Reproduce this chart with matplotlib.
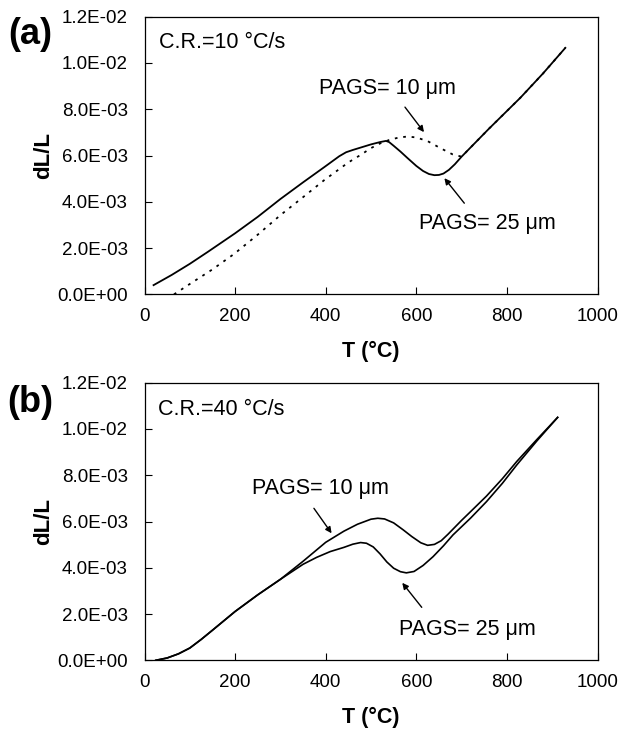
import matplotlib
matplotlib.use("Agg")
import matplotlib.pyplot as plt
from matplotlib.ticker import FuncFormatter

plt.rcParams['font.family'] = ['Liberation Sans', 'DejaVu Sans']

# (a) C.R. = 10 C/s, dL/L in units of 1e-3
a_T_25 = [20, 60, 100, 140, 200, 250, 300, 350, 397, 430, 445, 460, 480, 500,
          520, 533, 540, 550, 565, 580, 600, 615, 628, 640, 650, 660, 672,
          685, 700, 760, 830, 880, 929]
a_y_25 = [0.40, 0.84, 1.32, 1.84, 2.64, 3.35, 4.12, 4.84, 5.50, 5.97, 6.14,
          6.24, 6.36, 6.48, 6.58, 6.63, 6.58, 6.42, 6.17, 5.90, 5.55, 5.33,
          5.20, 5.15, 5.16, 5.22, 5.38, 5.62, 5.95, 7.15, 8.50, 9.55, 10.65]
a_T_10 = [65, 100, 150, 198, 250, 301, 350, 397, 450, 480, 499, 520, 540, 560,
          580, 600, 625, 654, 680, 700, 760, 830, 880, 929]
a_y_10 = [0.0, 0.45, 1.08, 1.75, 2.58, 3.44, 4.20, 4.94, 5.70, 6.06, 6.31,
          6.52, 6.67, 6.77, 6.82, 6.78, 6.62, 6.31, 6.05, 5.95, 7.15, 8.50,
          9.55, 10.65]

# (b) C.R. = 40 C/s
b_T_10 = [25, 50, 75, 100, 125, 150, 200, 250, 300, 350, 400, 440, 470, 500,
          515, 530, 550, 571, 590, 610, 625, 640, 655, 670, 685, 700, 720,
          755, 790, 822, 866, 912]
b_y_10 = [0.0, 0.10, 0.28, 0.53, 0.90, 1.30, 2.11, 2.83, 3.50, 4.28, 5.10,
          5.58, 5.88, 6.10, 6.14, 6.11, 5.94, 5.64, 5.35, 5.08, 4.97, 5.01,
          5.17, 5.45, 5.75, 6.05, 6.43, 7.10, 7.85, 8.60, 9.54, 10.50]
b_T_25 = [25, 50, 75, 100, 125, 150, 200, 250, 300, 350, 380, 410, 440, 460,
          477, 490, 505, 520, 535, 550, 565, 578, 595, 615, 637, 660, 681,
          720, 755, 790, 822, 866, 912]
b_y_25 = [0.0, 0.10, 0.28, 0.53, 0.90, 1.30, 2.11, 2.83, 3.50, 4.15, 4.45,
          4.70, 4.88, 5.02, 5.09, 5.06, 4.90, 4.60, 4.25, 3.98, 3.83, 3.78,
          3.84, 4.10, 4.48, 4.95, 5.42, 6.15, 6.86, 7.65, 8.45, 9.48, 10.50]

y_ticks = [0, 2, 4, 6, 8, 10, 12]
x_ticks = [0, 200, 400, 600, 800, 1000]

fig = plt.figure(figsize=(6.18, 7.29), dpi=100)
W, H = 618, 729


def make_axes(top_px, bottom_px):
    left, right = 144.5, 597.5
    return fig.add_axes([left / W, 1 - bottom_px / H,
                         (right - left) / W, (bottom_px - top_px) / H])


def style(ax):
    ax.set_xlim(0, 1000)
    ax.set_ylim(0, 0.012)
    ax.set_xticks(x_ticks)
    ax.set_yticks([v * 1e-3 for v in y_ticks])
    ax.yaxis.set_major_formatter(FuncFormatter(lambda v, p: f"{v:.1E}"))
    ax.tick_params(direction='in', length=5, width=0.8, labelsize=13.5,
                   top=False, right=False)
    ax.tick_params(axis='y', pad=12)
    ax.tick_params(axis='x', pad=10)
    for s in ax.spines.values():
        s.set_linewidth(0.9)
    ax.set_xlabel('T (°C)', fontsize=15.5, fontweight='bold')
    ax.set_ylabel('dL/L', fontsize=16, fontweight='bold')
    ax.xaxis.set_label_coords(0.5, -0.205)
    ax.xaxis.label.set_va('center')
    ax.yaxis.set_label_coords(-0.223, 0.5)
    ax.yaxis.label.set_va('center')


def arrow(ax, tail, head):
    ax.annotate('', xy=(head[0], head[1] * 1e-3), xytext=(tail[0], tail[1] * 1e-3),
                arrowprops=dict(arrowstyle='-|>', lw=1.0, color='black',
                                mutation_scale=9, shrinkA=0, shrinkB=0))


# panel (a)
ax1 = make_axes(16.6, 294.4)
ax1.plot(a_T_25, [v * 1e-3 for v in a_y_25], color='black', lw=1.3)
ax1.plot(a_T_10, [v * 1e-3 for v in a_y_10], color='black', lw=1.3,
         linestyle=(0, (1.5, 3.2)))
style(ax1)
ax1.text(0.031, 0.905, 'C.R.=10 °C/s', transform=ax1.transAxes, fontsize=15.5,
         va='center', ha='left')
ax1.text(537, 8.9e-3, 'PAGS= 10 μm', fontsize=15.5, ha='center', va='center')
ax1.text(756, 3.07e-3, 'PAGS= 25 μm', fontsize=15.5, ha='center', va='center')
arrow(ax1, (575, 8.09), (617, 7.01))
arrow(ax1, (706, 3.94), (662, 5.02))
fig.text(30.5 / W, 1 - 34 / H, '(a)', fontsize=26, fontweight='bold',
         ha='center', va='center')

# panel (b)
ax2 = make_axes(382.7, 660.3)
ax2.plot(b_T_10, [v * 1e-3 for v in b_y_10], color='black', lw=1.2)
ax2.plot(b_T_25, [v * 1e-3 for v in b_y_25], color='black', lw=1.2)
style(ax2)
ax2.text(0.03, 0.902, 'C.R.=40 °C/s', transform=ax2.transAxes, fontsize=15.5,
         va='center', ha='left')
ax2.text(389, 7.44e-3, 'PAGS= 10 μm', fontsize=15.5, ha='center', va='center')
ax2.text(712, 1.34e-3, 'PAGS= 25 μm', fontsize=15.5, ha='center', va='center')
arrow(ax2, (374, 6.57), (413, 5.49))
arrow(ax2, (612, 2.29), (569, 3.35))
fig.text(30.5 / W, 1 - 402 / H, '(b)', fontsize=26, fontweight='bold',
         ha='center', va='center')

fig.savefig('out.png', dpi=100)
